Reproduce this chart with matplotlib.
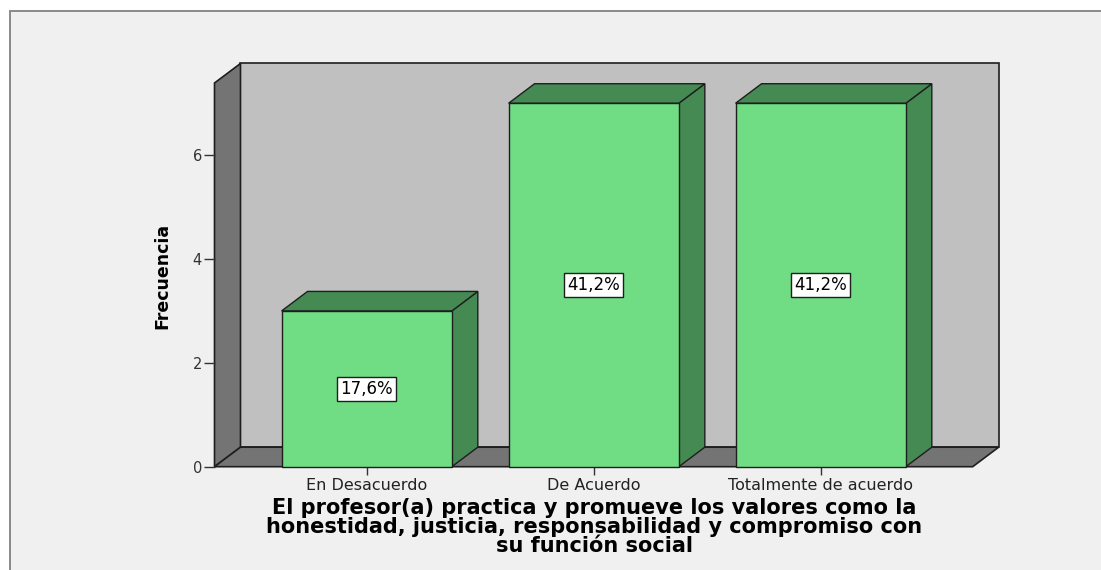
import matplotlib
matplotlib.use("Agg")
import matplotlib.pyplot as plt
from matplotlib.patches import Rectangle, Polygon

# ---- data ----
categories = ["En Desacuerdo", "De Acuerdo", "Totalmente de acuerdo"]
frequencies = [3, 7, 7]
pct_labels = ["17,6%", "41,2%", "41,2%"]
y_ticks = [0, 2, 4, 6]
title_lines = ["El profesor(a) practica y promueve los valores como la",
               "honestidad, justicia, responsabilidad y compromiso con",
               "su función social"]
ylabel_text = "Frecuencia"

# ---- style ----
W, H = 1101, 570
BAR_FRONT = "#70DC84"
BAR_DARK = "#448A52"
WALL_BACK = "#C0C0C0"
WALL_DARK = "#747474"
EDGE = "#1E1E1E"
bar_width = 0.75
depth_x = 0.1145   # 3D depth in x data units
depth_y = 0.376    # 3D depth in y data units

fig = plt.figure(figsize=(W / 100, H / 100), dpi=100)
fig.patch.set_facecolor("white")
fig.patches.append(Rectangle((10 / W, -0.02), 1.05, 1.02 - 11 / H,
                             transform=fig.transFigure, facecolor="#F0F0F0",
                             edgecolor="#8A8A8A", lw=1.4, zorder=-5))

ax = fig.add_axes([214.5 / W, (H - 466.7) / H, (972.7 - 214.5) / W, (466.7 - 83) / H])
ax.set_zorder(2)
ax.set_facecolor("none")
xmin, xmax = -0.6705, 2.6696
ymin, ymax = 0, 7.39
ax.set_xlim(xmin, xmax)
ax.set_ylim(ymin, ymax)
for s in ax.spines.values():
    s.set_visible(False)

# back wall
ax.add_patch(Rectangle((xmin + depth_x, ymin + depth_y), xmax - xmin, ymax - ymin,
                       facecolor=WALL_BACK, edgecolor=EDGE, lw=1.2, clip_on=False, zorder=1))
# left wall
ax.add_patch(Polygon([(xmin, ymin), (xmin, ymax), (xmin + depth_x, ymax + depth_y),
                      (xmin + depth_x, ymin + depth_y)], closed=True,
                     facecolor=WALL_DARK, edgecolor=EDGE, lw=1.2, clip_on=False, zorder=1.1))
# floor
ax.add_patch(Polygon([(xmin, ymin), (xmax, ymin), (xmax + depth_x, ymin + depth_y),
                      (xmin + depth_x, ymin + depth_y)], closed=True,
                     facecolor=WALL_DARK, edgecolor=EDGE, lw=1.2, clip_on=False, zorder=1.1))

xs = list(range(len(categories)))
for x, v, lab in zip(xs, frequencies, pct_labels):
    l, r = x - bar_width / 2, x + bar_width / 2
    # side
    ax.add_patch(Polygon([(r, 0), (r, v), (r + depth_x, v + depth_y), (r + depth_x, depth_y)],
                         closed=True, facecolor=BAR_DARK, edgecolor=EDGE, lw=1.0,
                         clip_on=False, zorder=2))
    # top
    ax.add_patch(Polygon([(l, v), (r, v), (r + depth_x, v + depth_y), (l + depth_x, v + depth_y)],
                         closed=True, facecolor=BAR_DARK, edgecolor=EDGE, lw=1.0,
                         clip_on=False, zorder=2))
    # front
    ax.add_patch(Rectangle((l, 0), bar_width, v, facecolor=BAR_FRONT, edgecolor=EDGE,
                           lw=1.0, clip_on=False, zorder=2.1))
    ax.text(x, v / 2, lab, ha="center", va="center", fontsize=12, color="black",
            family="DejaVu Sans", zorder=3,
            bbox=dict(boxstyle="square,pad=0.18", facecolor="white", edgecolor=EDGE, lw=1.0))

ax.set_yticks(y_ticks)
ax.set_yticklabels([str(t) for t in y_ticks])
ax.set_xticks(xs)
ax.set_xticklabels(categories)
ax.tick_params(axis="y", direction="out", length=8, width=1.0, color="#333333",
               labelsize=10.5, labelcolor="#333333", pad=1)
ax.tick_params(axis="x", direction="out", length=6, width=1.0, color="#333333",
               labelsize=11.5, labelcolor="#222222", pad=2)

fig.text(162 / W, (H - 276) / H, ylabel_text, rotation=90, ha="center", va="center",
         fontsize=12.5, fontweight="bold", family="DejaVu Sans", color="black")

for i, line in enumerate(title_lines):
    fig.text(594 / W, (H - (508.5 + 18.5 * i)) / H, line, ha="center", va="center",
             fontsize=15, fontweight="bold", family="DejaVu Sans", color="black")

fig.savefig("out.png", dpi=100, facecolor=fig.get_facecolor())
